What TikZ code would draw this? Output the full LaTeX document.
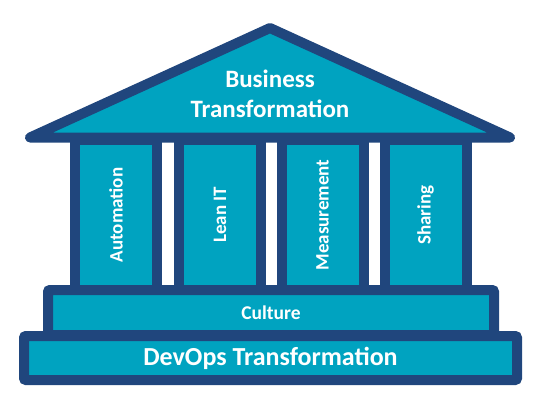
\documentclass[tikz,border=0pt]{standalone}
\usepackage{fontspec}
\setmainfont{Carlito}
\definecolor{teal1}{HTML}{00A3C0}
\definecolor{navy1}{HTML}{20467D}
\begin{document}
\begin{tikzpicture}[x=1pt,y=-1pt,
  part/.style={draw=navy1,fill=teal1,line width=10pt,line join=round},
  pillar/.style={part,rotate=90,minimum width=150pt,minimum height=82pt,inner sep=0pt,
    text=white,font=\bfseries\fontsize{19}{22}\selectfont},
  slab/.style={draw=navy1,fill=teal1,line width=10pt,rounded corners=2pt,inner sep=0pt,text=white}]
\useasboundingbox (0,0) rectangle (538,402);
\node[pillar] (p1) at (116,215) {Automation};
\node[pillar] (p2) at (220,215) {Lean IT};
\node[pillar] (p3) at (322.5,215) {Measurement};
\node[pillar] (p4) at (425.5,215) {Sharing};
\coordinate (rl) at (30,137.5);
\coordinate (ra) at (270,28);
\coordinate (rr) at (510,137.5);
\draw[part] (rl) -- (ra) -- (rr) -- cycle;
\node[text=white,font=\bfseries\fontsize{25}{30}\selectfont,align=center] (bt) at (270,94) {Business\\Transformation};
\node[slab,minimum width=446pt,minimum height=45pt,font=\bfseries\fontsize{19.5}{22}\selectfont] (cu) at (271,312.5) {Culture};
\node[slab,minimum width=493pt,minimum height=44pt,font=\bfseries\fontsize{26}{30}\selectfont] (dt) at (270.5,358) {DevOps Transformation};
\end{tikzpicture}
\end{document}
